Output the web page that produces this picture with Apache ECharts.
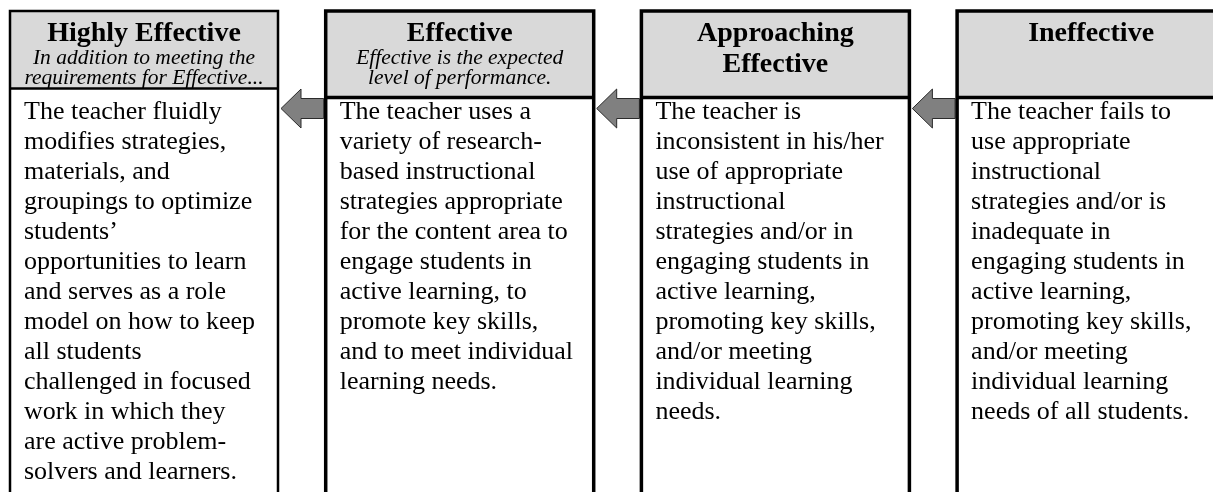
<!DOCTYPE html>
<html>
<head>
<meta charset="utf-8">
<script src="https://cdn.jsdelivr.net/npm/echarts@6/dist/echarts.min.js"></script>
<style>
html,body{margin:0;padding:0;background:#fff;}
#chart{width:1213px;height:492px;}
</style>
</head>
<body>
<div id="chart"></div>
<script>
// ---- Content (data) ----
var levels = ['Highly Effective', 'Effective', 'Approaching\nEffective', 'Ineffective'];
var subtitles = [
  'In addition to meeting the\nrequirements for Effective...',
  'Effective is the expected\nlevel of performance.',
  '',
  ''
];
var descHighlyEffective = [
  'The teacher fluidly', 'modifies strategies,', 'materials, and', 'groupings to optimize',
  'students\u2019', 'opportunities to learn', 'and serves as a role', 'model on how to keep',
  'all students', 'challenged in focused', 'work in which they', 'are active problem-',
  'solvers and learners.'
];
var descEffective = [
  'The teacher uses a', 'variety of research-', 'based instructional', 'strategies appropriate',
  'for the content area to', 'engage students in', 'active learning, to', 'promote key skills,',
  'and to meet individual', 'learning needs.'
];
var descApproaching = [
  'The teacher is', 'inconsistent in his/her', 'use of appropriate', 'instructional',
  'strategies and/or in', 'engaging students in', 'active learning,', 'promoting key skills,',
  'and/or meeting', 'individual learning', 'needs.'
];
var descIneffective = [
  'The teacher fails to', 'use appropriate', 'instructional', 'strategies and/or is',
  'inadequate in', 'engaging students in', 'active learning,', 'promoting key skills,',
  'and/or meeting', 'individual learning', 'needs of all students.'
];
var descriptions = [descHighlyEffective, descEffective, descApproaching, descIneffective];

// ---- Layout ----
var boxLeft0 = 10, boxPitch = 315.7, boxWidth = 268;
var boxTop = 11, boxBottom = 520;
var headerBottoms = [88.5, 97.5, 97.5, 97.5];
var borderW = [2.5, 3.5, 3.5, 3.5];
var serif = '"Liberation Serif", "Times New Roman", serif';

var elements = [];
for (var i = 0; i < levels.length; i++) {
  var L = boxLeft0 + i * boxPitch;
  var cx = L + boxWidth / 2;
  var hb = headerBottoms[i];
  // header fill
  elements.push({type:'rect', shape:{x:L, y:boxTop, width:boxWidth, height:hb-boxTop},
    style:{fill:'#d9d9d9'}, z:1});
  // box outline
  elements.push({type:'rect', shape:{x:L, y:boxTop, width:boxWidth, height:boxBottom-boxTop},
    style:{fill:'none', stroke:'#000', lineWidth:borderW[i]}, z:3});
  // divider
  elements.push({type:'line', shape:{x1:L, y1:hb, x2:L+boxWidth, y2:hb},
    style:{stroke:'#000', lineWidth:borderW[i]}, z:3});
  // title
  elements.push({type:'text', x:cx, y:18, z:4, style:{
    text: levels[i], font:'bold 28px ' + serif, fill:'#000',
    align:'center', verticalAlign:'top', lineHeight:31}});
  // subtitle
  if (subtitles[i]) {
    elements.push({type:'text', x:cx, y:48, z:4, style:{
      text: subtitles[i], font:'italic 21.5px ' + serif, fill:'#000',
      align:'center', verticalAlign:'top', lineHeight:20.5}});
  }
  // description
  elements.push({type:'text', x:L+14, y:97, z:4, style:{
    text: descriptions[i].join('\n'), font:'26px ' + serif, fill:'#000',
    align:'left', verticalAlign:'top', lineHeight:30}});
  // arrow pointing left to previous box
  if (i > 0) {
    var prevR = boxLeft0 + (i - 1) * boxPitch + boxWidth;
    var tip = prevR + 3, back = tip + 20, end = L - 2;
    var yt = 89, yb = 128, ym = (yt + yb) / 2, st = 98.5, sb = 118.5;
    elements.push({type:'polygon', z:2, shape:{points:[
      [tip, ym], [back, yt], [back, st], [end, st], [end, sb], [back, sb], [back, yb]
    ]}, style:{fill:'#808080', stroke:'#2b2b2b', lineWidth:1}});
  }
}

var chart = echarts.init(document.getElementById('chart'), null, {renderer:'canvas'});
chart.setOption({
  backgroundColor:'#ffffff',
  animation:false,
  graphic:{elements:elements}
});
</script>
</body>
</html>
